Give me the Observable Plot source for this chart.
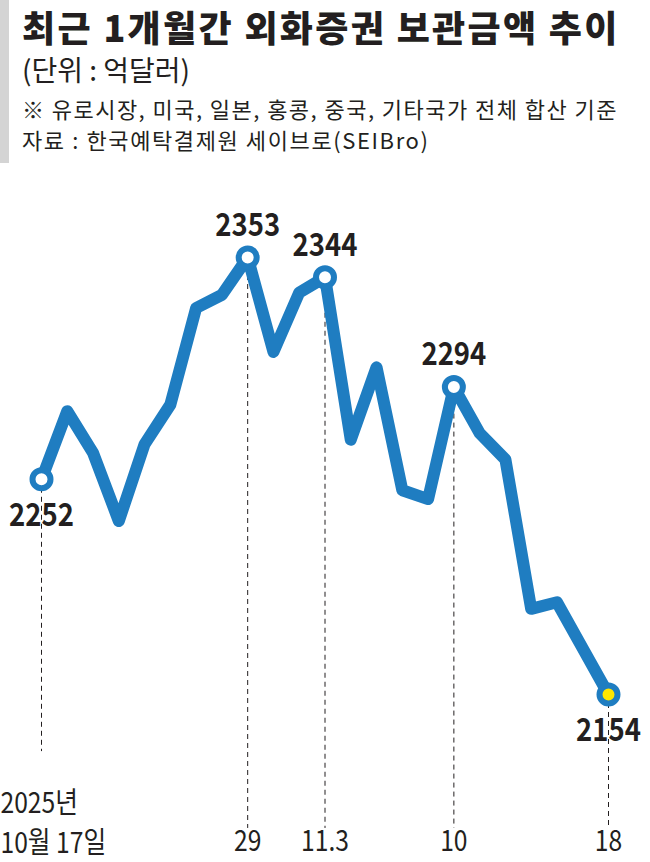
<!DOCTYPE html>
<html><head><meta charset="utf-8">
<script src="https://cdn.jsdelivr.net/npm/d3@7"></script>
<script src="https://cdn.jsdelivr.net/npm/@observablehq/plot@0.6"></script>
<style>
html,body{margin:0;padding:0;overflow:hidden;width:650px;height:862px;}
body{background:#fff;font-family:"Noto Sans CJK KR",sans-serif;color:#231f20;}
#head{position:relative;height:170px;width:650px;}
#bar{position:absolute;left:0;top:0;width:9px;height:163px;background:#d4d4d4;}
.t{position:absolute;left:22px;white-space:nowrap;line-height:1.448;width:max-content;}
#chart{height:692px;width:650px;overflow:hidden;}
#chart svg{display:block;width:650px !important;height:692px !important;max-width:none !important;}
</style></head>
<body>
<div id="head">
 <div id="bar"></div>
 <div class="t" style="top:0px;font-size:36px;font-weight:900;letter-spacing:2.3px">최근 1개월간 외화증권 보관금액 추이</div>
 <div class="t" style="top:49px;font-size:28px">(단위 : 억달러)</div>
 <div class="t" style="top:93px;font-size:22px;letter-spacing:1.45px">※ 유로시장, 미국, 일본, 홍콩, 중국, 기타국가 전체 합산 기준</div>
 <div class="t" style="top:124px;font-size:22px;letter-spacing:1.6px">자료 : 한국예탁결제원 세이브로(SEIBro)</div>
</div>
<div id="chart"></div>
<script>
const dates = ["10.17","10.20","10.21","10.22","10.23","10.24","10.27","10.28","10.29","10.30","10.31","11.3","11.4","11.5","11.6","11.7","11.10","11.11","11.12","11.13","11.14","11.17","11.18"];
const values = [2252, 2283, 2264, 2233, 2268, 2286, 2330, 2336, 2353, 2310, 2337, 2344, 2270, 2303, 2247, 2243, 2294, 2273, 2261, 2193, 2196, 2175, 2154];
const markedDates = ["10.17","10.29","11.3","11.10","11.18"];
const tickLabels = ["2025년\n10월 17일","29","11.3","10","18"];
const labelSide = ["below","above","above","above","below"];

// chart styling: where the dashed guide lines stop (in y-scale units)
const guideFloor = 2093;
const firstGuideFloor = 2128;

const BLUE = "#1f7dc1";
const INK = "#231f20";

const data = dates.map((d, i) => ({date: d, value: values[i]}));
const marked = markedDates.map((d, i) => ({
  date: d,
  value: values[dates.indexOf(d)],
  tick: tickLabels[i],
  side: labelSide[i],
  last: i === markedDates.length - 1
}));
const firstMark = marked.slice(0, 1);
const otherMarks = marked.slice(1);

const chart = Plot.plot({
  width: 650,
  height: 692,
  marginTop: 0,
  marginBottom: 34,
  marginLeft: 0,
  marginRight: 0,
  style: {fontFamily: "Noto Sans CJK KR, sans-serif", color: INK, background: "#fff"},
  x: {type: "point", domain: dates, range: [41, 608], padding: 0, round: false, axis: null},
  y: {domain: [2154, 2353], range: [524, 87], axis: null},
  marks: [
    Plot.ruleX(otherMarks, {x: "date", y1: "value", y2: () => guideFloor, stroke: INK, strokeWidth: 1, strokeDasharray: "5,4"}),
    Plot.ruleX(firstMark, {x: "date", y1: "value", y2: () => firstGuideFloor, stroke: INK, strokeWidth: 1, strokeDasharray: "5,4"}),
    Plot.line(data, {x: "date", y: "value", stroke: BLUE, strokeWidth: 12, strokeLinejoin: "round", strokeLinecap: "round"}),
    Plot.dot(marked, {x: "date", y: "value", r: 9, fill: d => d.last ? "#ffe600" : "#fff", stroke: BLUE, strokeWidth: 6}),
    Plot.text(marked, {x: "date", y: "value", text: d => String(d.value), fontSize: 32, fontWeight: "bold", fill: INK, lineAnchor: "middle"}),
    Plot.text(firstMark, {x: "date", text: "tick", frameAnchor: "bottom", textAnchor: "start", dx: -41, dy: -8, lineAnchor: "middle", lineHeight: 1.38, fontSize: 29, fill: INK}),
    Plot.text(otherMarks, {x: "date", text: "tick", frameAnchor: "bottom", dy: 13, lineAnchor: "middle", fontSize: 29, fill: INK})
  ]
});
document.getElementById("chart").appendChild(chart);

// value labels: offset above / below their points, condensed horizontally
const groups = chart.querySelectorAll('g[aria-label="text"]');
groups[0].querySelectorAll("text").forEach((t, i) => {
  const off = marked[i].side === "above" ? -32 : 36;
  t.setAttribute("transform", t.getAttribute("transform") + ` translate(0,${off}) scale(0.86,1)`);
});
[groups[1], groups[2]].forEach(g => g.querySelectorAll("text").forEach(t => {
  t.setAttribute("transform", t.getAttribute("transform") + " scale(0.85,1)");
}));
</script>
</body></html>
